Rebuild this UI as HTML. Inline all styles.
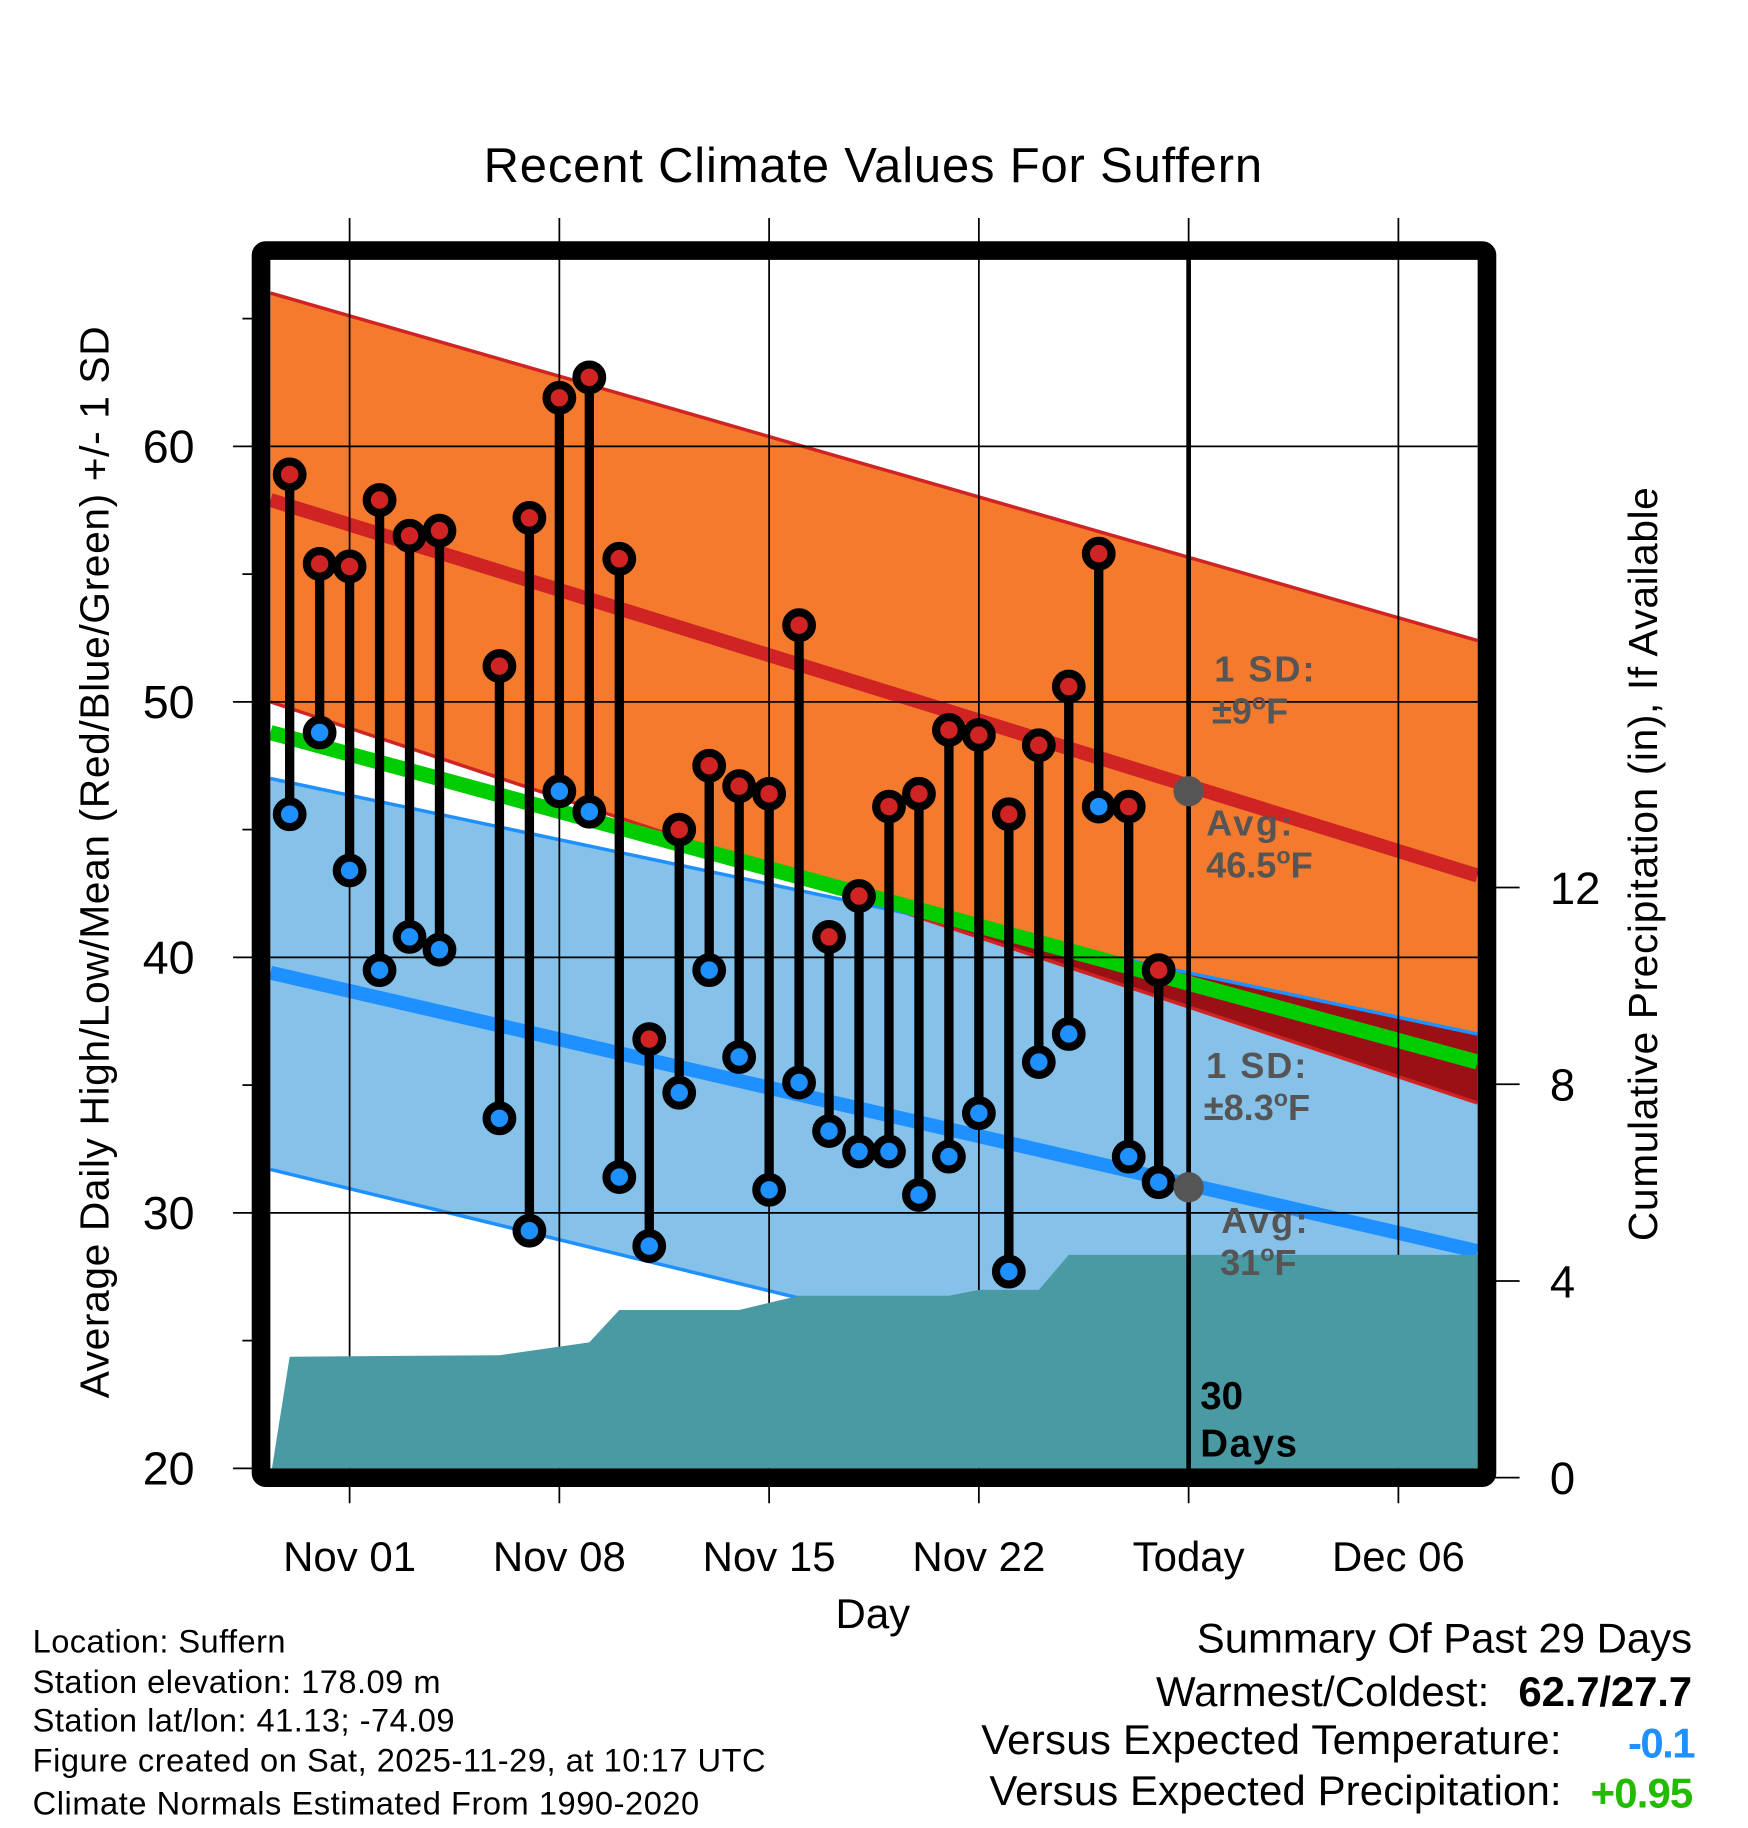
<!DOCTYPE html>
<html><head><meta charset="utf-8"><style>
html,body{margin:0;padding:0;background:#fff}
svg{display:block}
text{font-family:"Liberation Sans",Arial,sans-serif}
</style></head><body>
<svg id="chart" xmlns="http://www.w3.org/2000/svg" width="1748" height="1828" viewBox="0 0 1500 1568.6">
<rect width="1500" height="1568.6" fill="#fff"/>
<g id="bands"></g>
<g id="grid"></g>
<g id="precip"></g>
<g id="stems"></g>
<g id="frame"></g>
<g id="labels"></g>
</svg>
<script>
// ---- data ----
const dayLabels = ["Nov 01","Nov 08","Nov 15","Nov 22","Today","Dec 06"];
const dayLabelOffsets = [0,7,14,21,28,35]; // days from Nov 01
const yTicks = [20,30,40,50,60];
const yMinorTicks = [25,35,45,55,65];
const precipTicks = [0,4,8,12];
// days relative to Nov 01 (Oct 30 = -2)
const obsDays = [-2,-1,0,1,2,3,5,6,7,8,9,10,11,12,13,14,15,16,17,18,19,20,21,22,23,24,25,26,27];
const highs = [58.9,55.4,55.3,57.9,56.5,56.7,51.4,57.2,61.9,62.7,55.6,36.8,45.0,47.5,46.7,46.4,53.0,40.8,42.4,45.9,46.4,48.9,48.7,45.6,48.3,50.6,55.8,45.9,39.5];
const lows  = [45.6,48.8,43.4,39.5,40.8,40.3,33.7,29.3,46.5,45.7,31.4,28.7,34.7,39.5,36.1,30.9,35.1,33.2,32.4,32.4,30.7,32.2,33.9,27.7,35.9,37.0,45.9,32.2,31.2];
const precipDays = [-2.64,-2,5,8,9,13,15,20,21,23,24,38.3];
const precipCum  = [0,2.46,2.49,2.75,3.41,3.41,3.70,3.70,3.82,3.82,4.53,4.53];
// normals at left edge (day -2.64) and right edge (day 37.64)
const normEnds = [-2.64,37.64];
const avgHigh = [57.9,43.2];
const highSDup = [66.0,52.4];
const highSDlo = [50.0,34.3];
const avgLow = [39.4,28.5];
const lowSDup = [47.0,37.0];
const lowSDlo = [31.7,20.2];
const meanT = [48.8,35.9];

// ---- axes ----
const X0=232,X1=1268,Y0=222,Y1=1260;
const x = d => 300 + d*25.714;
const y = t => 1260 - (t-20)*21.925;
const yp = p => 1268 - p*42.2;
const NS="http://www.w3.org/2000/svg";
function mk(tag, attrs, parent){const e=document.createElementNS(NS,tag);for(const k in attrs)e.setAttribute(k,attrs[k]);parent.appendChild(e);return e;}
const bands=document.getElementById('bands'),grid=document.getElementById('grid'),precip=document.getElementById('precip'),stems=document.getElementById('stems'),frame=document.getElementById('frame'),labels=document.getElementById('labels');
function lineAt(arr,d){const t=(d-normEnds[0])/(normEnds[1]-normEnds[0]);return arr[0]+(arr[1]-arr[0])*t;}
const xa=x(normEnds[0]), xb=x(normEnds[1]);
function band(up,lo,fill,name){
  const p=mk('polygon',{points:`${xa},${y(up[0])} ${xb},${y(up[1])} ${xb},${y(lo[1])} ${xa},${y(lo[0])}`,fill:fill},bands);
  
  
}
band(highSDup,highSDlo,'#f47a2e','high-sd-band');
band(lowSDup,lowSDlo,'#85c1e8','low-sd-band');
{
  const f=d=>lineAt(highSDlo,d)-lineAt(lowSDup,d);
  const d0=normEnds[0],d1=normEnds[1];
  const dc=d0+(f(d0)/(f(d0)-f(d1)))*(d1-d0);
  const p=mk('polygon',{points:`${x(dc)},${y(lineAt(lowSDup,dc))} ${xb},${y(lowSDup[1])} ${xb},${y(highSDlo[1])}`,fill:'#9b1015'},bands);
  
  
}
function nline(arr,col,w,name){
  const l=mk('line',{x1:xa,y1:y(arr[0]),x2:xb,y2:y(arr[1]),stroke:col,'stroke-width':w},bands);
  
  
}
nline(highSDup,'#d02424',3,'high-sd-upper-line');
nline(highSDlo,'#d02424',3,'high-sd-lower-line');
nline(lowSDup,'#1e90ff',3,'low-sd-upper-line');
nline(lowSDlo,'#1e90ff',3,'low-sd-lower-line');
nline(avgHigh,'#d02424',12,'avg-high-line');
nline(avgLow,'#1e90ff',12,'avg-low-line');
nline(meanT,'#00cc00',13,'mean-temp-line');

dayLabelOffsets.forEach((d,i)=>{
  const l=mk('line',{x1:x(d),y1:187,x2:x(d),y2:1290,stroke:'#000','stroke-width':1.5},grid);
  
  
  const t=mk('text',{x:x(d),y:1348,'font-size':36,'text-anchor':'middle'},labels);
  t.textContent=dayLabels[i];
  
  
});
yTicks.forEach(v=>{
  if(v>20){const l=mk('line',{x1:X0,y1:y(v),x2:X1,y2:y(v),stroke:'#000','stroke-width':1.5},grid);
  
  }
  const k=mk('line',{x1:200,y1:y(v),x2:220,y2:y(v),stroke:'#000','stroke-width':1.5},frame);
  
  
  const t=mk('text',{x:167,y:y(v)+14,'font-size':40,'text-anchor':'end'},labels);
  t.textContent=v;
  
  
});
yMinorTicks.forEach(v=>{
  const k=mk('line',{x1:208,y1:y(v),x2:220,y2:y(v),stroke:'#000','stroke-width':1.5},frame);
  
  
});
precipTicks.forEach(v=>{
  const k=mk('line',{x1:1280,y1:yp(v),x2:1304,y2:yp(v),stroke:'#000','stroke-width':1.5},frame);
  
  
  const t=mk('text',{x:1330,y:yp(v)+14,'font-size':39},labels);
  t.textContent=v;
  
  
});

{
  let pts=`${x(precipDays[0])},${Y1} `;
  precipDays.forEach((d,i)=>{pts+=`${Math.min(Math.max(x(d),X0),X1)},${yp(precipCum[i])} `;});
  pts+=`${X1},${Y1}`;
  const p=mk('polygon',{points:pts,fill:'#4a9aa4'},precip);
  
  
}

obsDays.forEach((d,i)=>{
  const g=mk('g',{},stems);
  
  
  mk('line',{x1:x(d),y1:y(highs[i]),x2:x(d),y2:y(lows[i]),stroke:'#000','stroke-width':8},g);
  const hc=mk('circle',{cx:x(d),cy:y(highs[i]),r:11,fill:'#d02424',stroke:'#000','stroke-width':7},g);
  
  
  const lc=mk('circle',{cx:x(d),cy:y(lows[i]),r:11,fill:'#1e90ff',stroke:'#000','stroke-width':7},g);
  
  
});
{
  const l=mk('line',{x1:x(28),y1:Y0,x2:x(28),y2:Y1,stroke:'#000','stroke-width':4},frame);
  
  
  const c1=mk('circle',{cx:x(28),cy:y(46.5),r:13,fill:'#555'},frame);
  
  
  const c2=mk('circle',{cx:x(28),cy:y(31),r:13,fill:'#555'},frame);
  
  
  const f=mk('rect',{x:224,y:215,width:1052,height:1053,fill:'none',stroke:'#000','stroke-width':16,rx:4},frame);
  
  
}
</script>
<svg style="position:absolute;left:0;top:0" width="1748" height="1828" viewBox="0 0 1500 1568.6">
<g font-weight="bold" fill="#555" font-size="31" font-family="Liberation Sans, sans-serif">
<text x="1042" y="585" textLength="86">1 SD:</text>
<text x="1040" y="621">±9<tspan font-size="20" dy="-12">o</tspan><tspan dy="12">F</tspan></text>
<text x="1035" y="717" textLength="74">Avg:</text>
<text x="1035" y="753">46.5<tspan font-size="20" dy="-12">o</tspan><tspan dy="12">F</tspan></text>
<text x="1035" y="925" textLength="86">1 SD:</text>
<text x="1033" y="961">±8.3<tspan font-size="20" dy="-12">o</tspan><tspan dy="12">F</tspan></text>
<text x="1048" y="1058" textLength="74">Avg:</text>
<text x="1047" y="1094">31<tspan font-size="20" dy="-12">o</tspan><tspan dy="12">F</tspan></text>
</g>
<g font-weight="bold" fill="#000" font-size="33" font-family="Liberation Sans, sans-serif">
<text x="1030" y="1209">30</text>
<text x="1030" y="1250" textLength="83">Days</text>
</g>
<g font-family="Liberation Sans, sans-serif" fill="#000">
<text x="415" y="156" font-size="42" textLength="668">Recent Climate Values For Suffern</text>
<text x="749" y="1397" font-size="36" text-anchor="middle">Day</text>
<text transform="translate(93,1200) rotate(-90)" font-size="35" textLength="920">Average Daily High/Low/Mean (Red/Blue/Green) +/- 1 SD</text>
<text transform="translate(1422,1065) rotate(-90)" font-size="35" textLength="647">Cumulative Precipitation (in), If Available</text>
<g font-size="28">
<text x="28" y="1418" textLength="217">Location: Suffern</text>
<text x="28" y="1453" textLength="350">Station elevation: 178.09 m</text>
<text x="28" y="1486" textLength="362">Station lat/lon: 41.13; -74.09</text>
<text x="28" y="1520" textLength="629">Figure created on Sat, 2025-11-29, at 10:17 UTC</text>
<text x="28" y="1557" textLength="572">Climate Normals Estimated From 1990-2020</text>
</g>
<g font-size="36">
<text x="1027" y="1418" textLength="425">Summary Of Past 29 Days</text>
<text x="992" y="1464" textLength="286">Warmest/Coldest:</text>
<text x="1303" y="1464" textLength="149" font-weight="bold">62.7/27.7</text>
<text x="842" y="1505" textLength="498">Versus Expected Temperature:</text>
<text x="1397" y="1508" textLength="58" font-weight="bold" fill="#1e90ff">-0.1</text>
<text x="849" y="1549" textLength="491">Versus Expected Precipitation:</text>
<text x="1365" y="1551" textLength="88" font-weight="bold" fill="#22bb00">+0.95</text>
</g>
</g>
</svg>
</body></html>
